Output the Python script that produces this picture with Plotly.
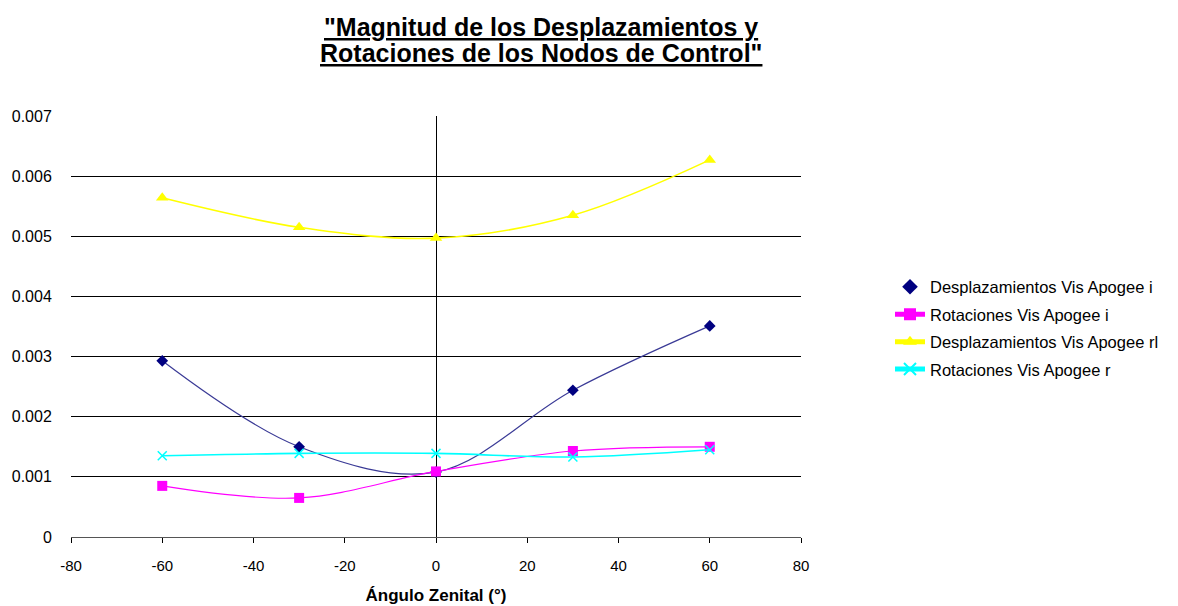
import plotly.graph_objects as go

angles = [-60, -30, 0, 30, 60]
desp_i = [0.00293, 0.00150, 0.00108, 0.00244, 0.00351]
rot_i = [0.00085, 0.00065, 0.00109, 0.00143, 0.00150]
desp_rl = [0.00564, 0.00515, 0.00497, 0.00535, 0.00627]
rot_r = [0.00135, 0.00139, 0.00139, 0.00133, 0.00145]

names = ["Desplazamientos Vis Apogee i", "Rotaciones Vis Apogee i",
         "Desplazamientos Vis Apogee rl", "Rotaciones Vis Apogee r"]
title_lines = ['"Magnitud de los Desplazamientos y', 'Rotaciones de los Nodos de Control"']
x_title = "Ángulo Zenital (°)"
x_ticks = [-80, -60, -40, -20, 0, 20, 40, 60, 80]
y_ticks = [0, 0.001, 0.002, 0.003, 0.004, 0.005, 0.006, 0.007]

FONT = "Liberation Sans, Arial, sans-serif"

# page body has an 8px margin; figure coords = screen coords - 8
L, T, W, H = 63, 108, 730, 421
FW, FH = 1178, 606

fig = go.Figure()
fig.add_trace(go.Scatter(x=angles, y=desp_i, mode="lines", line=dict(color="#3a3a96", width=1.2, shape="spline"),
                         showlegend=False, hoverinfo="skip", legendgroup="g0"))
fig.add_trace(go.Scatter(x=angles, y=desp_i, mode="markers", name=names[0], legendgroup="g1",
                         marker=dict(symbol="diamond", size=9, color="#000080")))
fig.add_trace(go.Scatter(x=angles, y=rot_i, mode="lines+markers", name=names[1], legendgroup="g2",
                         line=dict(color="#FF00FF", width=1.2, shape="spline"),
                         marker=dict(symbol="square", size=10, color="#FF00FF")))
fig.add_trace(go.Scatter(x=angles, y=desp_rl, mode="lines+markers", name=names[2], legendgroup="g3",
                         line=dict(color="#FFFF00", width=1.6, shape="spline"),
                         marker=dict(symbol="triangle-up", size=11, color="#FFFF00")))
fig.add_trace(go.Scatter(x=angles, y=rot_r, mode="lines+markers", name=names[3], legendgroup="g4",
                         line=dict(color="#00FFFF", width=1.6, shape="spline"),
                         marker=dict(symbol="x-thin-open", size=9, color="#00FFFF",
                                     line=dict(color="#00FFFF", width=1.5))))

fig.update_layout(
    width=FW, height=FH,
    paper_bgcolor="white", plot_bgcolor="white",
    margin=dict(l=L, r=FW - L - W, t=T, b=FH - T - H),
    font=dict(family=FONT, size=13, color="#000000"),
    showlegend=True,
    legend=dict(x=(882 - L) / W, y=(T + H - 320) / H, xanchor="left", yanchor="middle",
                font=dict(family=FONT, size=16.5, color="#000000"),
                tracegroupgap=3, itemsizing="constant", bgcolor="rgba(0,0,0,0)"),
    annotations=[
        dict(text="<b><u>" + title_lines[0] + "</u></b>",
             x=(533 - L) / W, y=1 + (T - 19) / H, xref="paper", yref="paper", showarrow=False,
             xanchor="center", yanchor="middle", font=dict(family=FONT, size=25, color="#000000")),
        dict(text="<b><u>" + title_lines[1] + "</u></b>",
             x=(533 - L) / W, y=1 + (T - 45) / H, xref="paper", yref="paper", showarrow=False,
             xanchor="center", yanchor="middle", font=dict(family=FONT, size=25, color="#000000")),
    ],
)

fig.update_xaxes(
    range=[-80, 80], tickvals=x_ticks, ticktext=[str(v) for v in x_ticks],
    showgrid=False, zeroline=True, zerolinecolor="#000000", zerolinewidth=1,
    showline=True, linecolor="#555555", linewidth=1,
    ticks="outside", ticklen=5, tickcolor="#000000",
    ticklabelstandoff=10, automargin=False,
    tickfont=dict(family=FONT, size=15, color="#000000"),
    title=dict(text="<b>" + x_title + "</b>", font=dict(family=FONT, size=17, color="#000000"), standoff=16),
)
fig.update_yaxes(
    range=[0, 0.007], tickvals=y_ticks, ticktext=[("0" if v == 0 else f"{v:.3f}") for v in y_ticks],
    showgrid=True, gridcolor="#000000", gridwidth=1, zeroline=False, showline=False,
    ticks="outside", ticklen=15, tickcolor="rgba(0,0,0,0)", automargin=False,
    tickfont=dict(family=FONT, size=16, color="#000000"),
)

fig.write_html("out.html")
